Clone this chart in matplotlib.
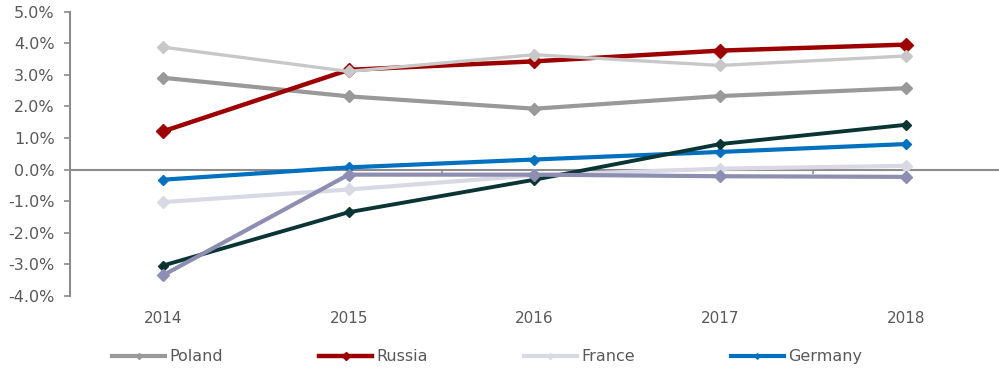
import numpy as np
import matplotlib.pyplot as plt
from matplotlib.ticker import FuncFormatter

years = ['2014', '2015', '2016', '2017', '2018']

# growth rates, %
poland = [2.91, 2.32, 1.93, 2.33, 2.58]
russia = [1.21, 3.16, 3.43, 3.77, 3.96]
france = [-1.03, -0.63, -0.18, 0.03, 0.12]
germany = [-0.32, 0.07, 0.32, 0.56, 0.81]
series_e = [3.88, 3.11, 3.64, 3.30, 3.60]
series_f = [-3.04, -1.35, -0.32, 0.81, 1.42]
series_g = [-3.35, -0.16, -0.16, -0.21, -0.23]

plt.rcParams['font.family'] = 'DejaVu Sans'
txt = '#595959'
axis_col = '#8c8c8c'

fig = plt.figure(figsize=(9.99, 3.68), dpi=100)
ax = fig.add_axes([0.070, 0.196, 0.930, 0.772])

x = np.arange(len(years))

# (values, label, colour, line width, marker size)
lines = [
    (poland, 'Poland', '#999999', 3.0, 6),
    (russia, 'Russia', '#9c0000', 3.2, 7.5),
    (france, 'France', '#d9d9e6', 3.0, 6),
    (germany, 'Germany', '#0070c0', 3.0, 5.5),
    (series_e, None, '#c8c8c8', 2.4, 6.5),
    (series_f, None, '#0b3535', 2.8, 5.5),
    (series_g, None, '#8e8eb2', 3.0, 6),
]

handles = []
for vals, name, col, lw, ms in lines:
    h, = ax.plot(x, vals, color=col, lw=lw, marker='D', ms=ms,
                 markeredgecolor=col, solid_joinstyle='miter')
    if name:
        h.set_label(name)
        handles.append(h)

ax.set_xlim(-0.5, 4.5)
ax.set_ylim(-4, 5)
ax.set_yticks(np.arange(-4, 6, 1))
ax.yaxis.set_major_formatter(FuncFormatter(lambda v, p: f'{v:.1f}%'))

for s in ['top', 'right', 'bottom']:
    ax.spines[s].set_visible(False)
ax.spines['left'].set_color(axis_col)
ax.spines['left'].set_linewidth(1.5)

ax.tick_params(axis='y', colors=axis_col, labelcolor=txt, labelsize=11.5,
               length=4, width=1.2, pad=7)
ax.set_xticks(x)
ax.set_xticklabels(years)
ax.tick_params(axis='x', length=0, labelcolor=txt, labelsize=11, pad=11)

# zero line with category separators
zero = ax.secondary_xaxis(4 / 9)
zero.spines['bottom'].set_color(axis_col)
zero.spines['bottom'].set_linewidth(1.5)
zero.set_xticks([0.5, 1.5, 2.5, 3.5])
zero.set_xticklabels([])
zero.tick_params(axis='x', direction='out', length=3, width=1.2, colors=axis_col)

leg = fig.legend(handles=handles, loc='center left', bbox_to_anchor=(0.098, 0.03),
                 ncol=4, frameon=False, fontsize=11.5, handlelength=3.3,
                 handletextpad=0.3, columnspacing=6.0, labelcolor=txt,
                 markerscale=0.5)

fig.savefig('out.png', dpi=100)
